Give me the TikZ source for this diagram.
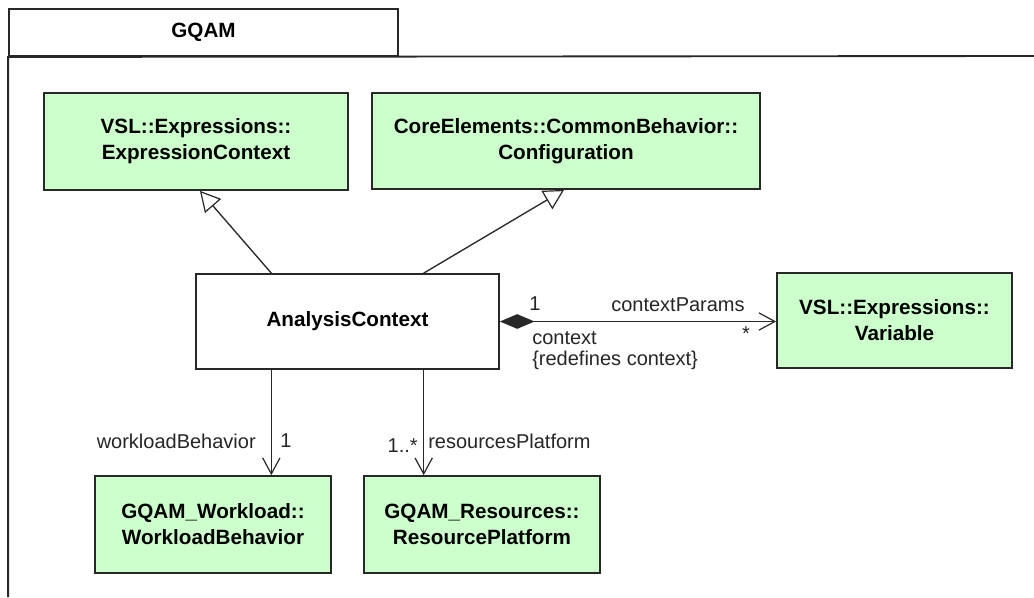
\documentclass[tikz,border=0pt]{standalone}
\usepackage{fontspec}
\setmainfont{Liberation Sans}
\usetikzlibrary{arrows.meta,calc,shadows}
\definecolor{classgreen}{RGB}{204,255,204}
\definecolor{linegray}{RGB}{40,40,40}
\begin{document}
\begin{tikzpicture}[x=0.75pt,y=-0.75pt,
  classbox/.style={draw=linegray, line width=1.3pt, fill=classgreen, inner sep=0pt, align=center,
    font=\fontsize{15.5}{19.5}\selectfont\bfseries,
    drop shadow={shadow xshift=1pt, shadow yshift=-1pt, fill=black, opacity=0.45}},
  plainbox/.style={classbox, fill=white},
  lbl/.style={inner sep=0pt, font=\fontsize{15}{18}\selectfont, text=black!85},
  conn/.style={draw=linegray, line width=1pt},
  gen/.style={-{Triangle[length=15pt,width=16pt,fill=white,line width=0.9pt]}},
  nav/.style={-{Straight Barb[length=12pt,width=13pt,line width=0.9pt]}},
  framestyle/.style={draw=linegray, line width=1.4pt}
]
\useasboundingbox (0,0) rectangle (1034,597);
\fill[white] (0,0) rectangle (1034,597);

% package tab and frame
\node[draw=linegray, line width=1.4pt, fill=white, inner sep=0pt,
      minimum width=291.75pt, minimum height=35.25pt,
      font=\fontsize{15.5}{19.5}\selectfont\bfseries] (pkgtab) at (203.5,32.5) {GQAM};
\draw[framestyle] (1034,56) -- (pkgtab.south west) -- (pkgtab.south west |- 0,597);

% classes
\node[classbox, minimum width=228pt, minimum height=72.75pt] (exprctx) at (196,141.5)
  {VSL::Expressions::\\ExpressionContext};
\node[classbox, minimum width=291pt, minimum height=72pt] (config) at (566,141)
  {CoreElements::CommonBehavior::\\Configuration};
\node[plainbox, minimum width=227.25pt, minimum height=71.25pt] (analysis) at (347.5,321.5)
  {AnalysisContext};
\node[classbox, minimum width=176.25pt, minimum height=71.25pt] (variable) at (894.5,320.5)
  {VSL::Expressions::\\Variable};
\node[classbox, minimum width=177pt, minimum height=72.75pt] (workload) at (213,524.5)
  {GQAM\_Workload::\\WorkloadBehavior};
\node[classbox, minimum width=177pt, minimum height=72.75pt] (resource) at (482,524.5)
  {GQAM\_Resources::\\ResourcePlatform};

% generalizations
\coordinate (g1s) at ($(analysis.north west)!0.25!(analysis.north east)$);
\coordinate (g1e) at ($(exprctx.south west)!0.513!(exprctx.south east)$);
\draw[conn, gen] (g1s) -- (g1e);
\coordinate (g2s) at ($(analysis.north west)!0.75!(analysis.north east)$);
\coordinate (g2e) at ($(config.south west)!0.495!(config.south east)$);
\draw[conn, gen] (g2s) -- (g2e);

% composition
\draw[conn, {Diamond[length=26pt,width=11pt,fill=linegray]}-{Straight Barb[length=12pt,width=13pt,line width=0.9pt]}]
  (analysis.east) -- (analysis.east -| variable.west);
\node[lbl, anchor=west] (m1) at (529,304) {1};
\node[lbl, anchor=west] (cparams) at (611,305) {contextParams};
\node[lbl] (mstar) at (746,334) {*};
\node[lbl, anchor=west] (ctx) at (532,338) {context};
\node[lbl, anchor=west] (redef) at (532,360) {\{redefines context\}};

% navigable associations
\coordinate (a1s) at ($(analysis.south west)!0.25!(analysis.south east)$);
\draw[conn, nav] (a1s) -- (a1s |- workload.north);
\coordinate (a2s) at ($(analysis.south west)!0.75!(analysis.south east)$);
\draw[conn, nav] (a2s) -- (a2s |- resource.north);
\node[lbl, anchor=east] (wlb) at (256,441) {workloadBehavior};
\node[lbl, anchor=west] (m2) at (280,441) {1};
\node[lbl, anchor=east] (m3) at (418,446) {1..*};
\node[lbl, anchor=west] (rpf) at (428,441) {resourcesPlatform};
\end{tikzpicture}
\end{document}
